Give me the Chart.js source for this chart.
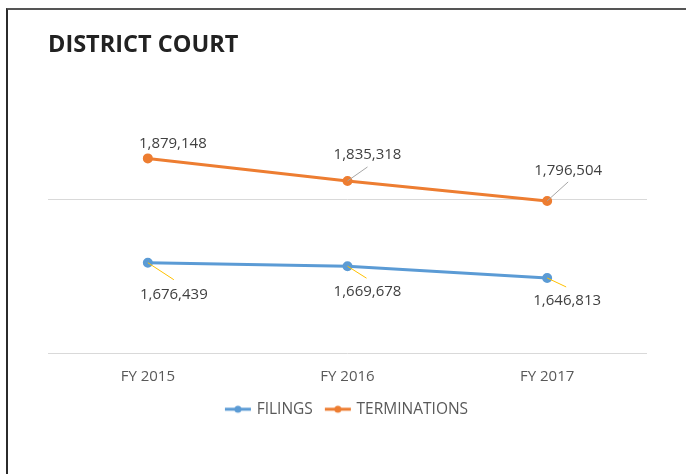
<!DOCTYPE html>
<html>
<head>
<meta charset="utf-8">
<script src="https://cdn.jsdelivr.net/npm/chart.js@4"></script>
<style>
  html, body { margin: 0; padding: 0; background: #fff; }
  #wrap { position: relative; width: 686px; height: 474px; overflow: hidden; }
  #frame { position: absolute; left: 6px; top: 8px; width: 700px; height: 480px;
           border-left: 2px solid #2b2b2b; border-top: 2px solid #555; pointer-events: none; }
  canvas { position: absolute; left: 0; top: 0; }
</style>
</head>
<body>
<div id="wrap">
  <canvas id="chart-area" width="686" height="474"></canvas>
  <div id="frame"></div>
</div>
<script>
var years = ['FY 2015', 'FY 2016', 'FY 2017'];
var filings = [1676439, 1669678, 1646813];
var terminations = [1879148, 1835318, 1796504];
var gridTicks = [1500000, 1800000];

var blue = '#5B9BD5';
var orange = '#ED7D31';

// legend marker: short line with a dot
function legendMarker(color) {
    var c = document.createElement('canvas');
    c.width = 28; c.height = 10;
    var g = c.getContext('2d');
    g.strokeStyle = color; g.lineWidth = 3;
    g.beginPath(); g.moveTo(1, 5); g.lineTo(27, 5); g.stroke();
    g.fillStyle = color;
    g.beginPath(); g.arc(14, 5, 3.5, 0, Math.PI * 2); g.fill();
    return c;
}

// where each value label sits relative to its point, and leader line end
var labelPos = [
    [ {dx: 26, dy: 32, lx: 26, ly: 17}, {dx: 20, dy: 26, lx: 19, ly: 12}, {dx: 20, dy: 23, lx: 19, ly: 9} ],
    [ {dx: 25, dy: -15}, {dx: 20, dy: -26, lx: 20, ly: -14}, {dx: 21, dy: -30, lx: 21, ly: -19} ]
];
var leaderColors = ['#FFC000', '#A6A6A6'];

var valueLabels = {
    id: 'valueLabels',
    afterDatasetsDraw: function(chart) {
        var ctx = chart.ctx;
        ctx.save();
        ctx.font = '15px "Open Sans"';
        ctx.fillStyle = '#404040';
        ctx.textAlign = 'center';
        ctx.textBaseline = 'middle';
        chart.data.datasets.forEach(function(ds, d) {
            var meta = chart.getDatasetMeta(d);
            meta.data.forEach(function(pt, i) {
                var p = labelPos[d][i];
                if (p.lx !== undefined) {
                    ctx.strokeStyle = leaderColors[d];
                    ctx.lineWidth = 1;
                    ctx.beginPath();
                    ctx.moveTo(pt.x, pt.y);
                    ctx.lineTo(pt.x + p.lx, pt.y + p.ly);
                    ctx.stroke();
                }
                ctx.fillText(ds.data[i].toLocaleString('en-US'), pt.x + p.dx, pt.y + p.dy);
            });
        });
        ctx.restore();
    }
};

var config = {
    type: 'line',
    data: {
        labels: years,
        datasets: [{
            label: 'FILINGS',
            data: filings,
            borderColor: blue,
            backgroundColor: blue,
            borderWidth: 3,
            pointRadius: 3.5,
            tension: 0
        }, {
            label: 'TERMINATIONS',
            data: terminations,
            borderColor: orange,
            backgroundColor: orange,
            borderWidth: 3,
            pointRadius: 3.5,
            tension: 0
        }]
    },
    options: {
        responsive: false,
        animation: false,
        layout: { padding: { left: 48, right: 39, top: 0, bottom: 47 } },
        plugins: {
            title: {
                display: true,
                text: 'DISTRICT COURT',
                align: 'start',
                color: '#222',
                font: { family: '"Open Sans"', size: 23.5, weight: 'bold' },
                padding: { top: 31, bottom: 37 }
            },
            legend: {
                position: 'bottom',
                labels: {
                    color: '#595959',
                    font: { family: '"Open Sans"', size: 15.5 },
                    usePointStyle: true,
                    pointStyleWidth: 22,
                    padding: 14,
                    generateLabels: function(chart) {
                        return chart.data.datasets.map(function(ds, i) {
                            return {
                                text: ds.label,
                                fontColor: '#595959',
                                pointStyle: legendMarker(ds.borderColor),
                                datasetIndex: i,
                                lineWidth: 0,
                                strokeStyle: ds.borderColor,
                                fillStyle: ds.borderColor
                            };
                        });
                    }
                }
            },
            tooltip: { enabled: false }
        },
        scales: {
            x: {
                offset: true,
                grid: { display: false, drawTicks: false },
                border: { display: false },
                ticks: { color: '#595959', font: { family: '"Open Sans"', size: 15 }, padding: 14 },
                afterFit: function(scale) { scale.height -= 12; }
            },
            y: {
                min: 1500000,
                max: 2000000,
                afterBuildTicks: function(axis) {
                    axis.ticks = gridTicks.map(function(v) { return { value: v }; });
                },
                ticks: { display: false },
                border: { display: false },
                grid: { color: '#D9D9D9', lineWidth: 1, drawTicks: false }
            }
        }
    },
    plugins: [valueLabels]
};

var ctx = document.getElementById('chart-area').getContext('2d');
window.myLine = new Chart(ctx, config);
</script>
</body>
</html>
